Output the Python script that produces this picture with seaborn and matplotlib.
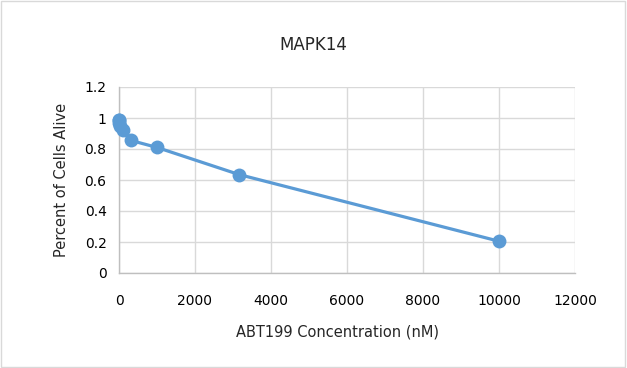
import matplotlib
matplotlib.use("Agg")
import matplotlib.pyplot as plt
import seaborn as sns
import pandas as pd
from matplotlib.patches import Rectangle

concentration = [0, 3.16, 10, 31.6, 100, 316, 1000, 3162, 10000]
percent_alive = [0.99, 0.985, 0.97, 0.95, 0.92, 0.855, 0.81, 0.635, 0.205]
x_ticks = [0, 2000, 4000, 6000, 8000, 10000, 12000]
y_ticks = [0, 0.2, 0.4, 0.6, 0.8, 1.0, 1.2]
y_labels = ["0", "0.2", "0.4", "0.6", "0.8", "1", "1.2"]

df = pd.DataFrame({"conc": concentration, "alive": percent_alive})

sns.set_theme(style="white")
plt.rcParams["font.family"] = ["DejaVu Sans"]

fig = plt.figure(figsize=(6.27, 3.68), dpi=100)
ax = fig.add_axes([119/627, 1-273/368, (575-119)/627, (273-87)/368])

blue = "#5B9BD5"
sns.lineplot(data=df, x="conc", y="alive", ax=ax, color=blue, linewidth=2.3,
             marker="o", markersize=10, markeredgewidth=0, estimator=None, sort=False,
             clip_on=False, zorder=5)

ax.set_xlim(0, 12000)
ax.set_ylim(0, 1.2)
ax.set_xticks(x_ticks)
ax.set_xticklabels([str(t) for t in x_ticks])
ax.set_yticks(y_ticks)
ax.set_yticklabels(y_labels)
ax.grid(True, color="#D9D9D9", linewidth=1)
ax.set_axisbelow(True)
for s in ["top", "right"]:
    ax.spines[s].set_visible(False)
for s in ["left", "bottom"]:
    ax.spines[s].set_color("#BFBFBF")
    ax.spines[s].set_linewidth(1)
ax.tick_params(axis="x", length=0, labelsize=10, colors="#000000", pad=15)
ax.tick_params(axis="y", length=0, labelsize=10, colors="#000000", pad=9)
ax.set_xlabel("ABT199 Concentration (nM)", fontsize=10.5, labelpad=14)
ax.xaxis.set_label_coords((337 - 119) / (575 - 119), -(332 - 273) / (273 - 87))
ax.xaxis.label.set_va("center")
ax.set_ylabel("Percent of Cells Alive", fontsize=10.5)
ax.yaxis.set_label_coords(-(119 - 62) / (575 - 119), 0.5)
ax.yaxis.label.set_va("center")
fig.text(313/627, 1-45/368, "MAPK14", fontsize=12, ha="center", va="center")

fig.patches.append(Rectangle((0.002, 0.003), 0.995, 0.994, transform=fig.transFigure,
                             fill=False, edgecolor="#D9D9D9", linewidth=1))

fig.savefig("out.png", dpi=100)
